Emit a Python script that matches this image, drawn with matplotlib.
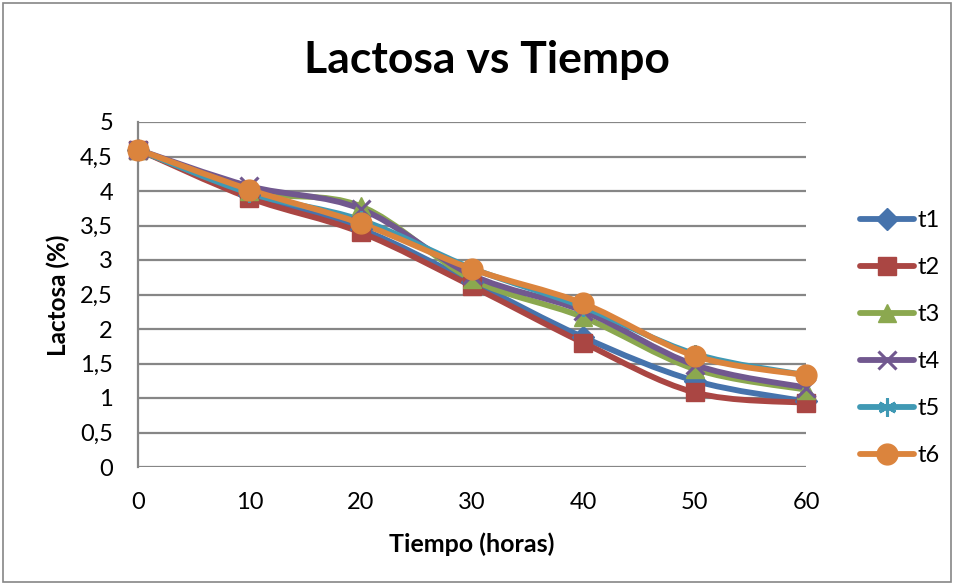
import matplotlib.pyplot as plt
import numpy as np
from matplotlib.path import Path
from matplotlib.patches import PathPatch, Rectangle
from matplotlib.lines import Line2D

plt.rcParams['font.family'] = ['Lato', 'DejaVu Sans']

horas = [0, 10, 20, 30, 40, 50, 60]
t1 = [4.60, 3.94, 3.45, 2.68, 1.88, 1.25, 0.95]
t2 = [4.60, 3.90, 3.40, 2.62, 1.80, 1.08, 0.93]
t3 = [4.60, 4.00, 3.78, 2.72, 2.17, 1.42, 1.12]
t4 = [4.60, 4.07, 3.74, 2.78, 2.26, 1.48, 1.15]
t5 = [4.60, 3.97, 3.58, 2.88, 2.32, 1.64, 1.33]
t6 = [4.60, 4.02, 3.53, 2.87, 2.37, 1.61, 1.33]

names = ['t1', 't2', 't3', 't4', 't5', 't6']
colors = ['#4673AC', '#AA4643', '#8BA84F', '#71588F', '#4099B4', '#DB843D']
markers = ['D', 's', '^', 'x', (6, 2, 0), 'o']
msizes = [11, 13, 13, 13, 13, 15]
series = [t1, t2, t3, t4, t5, t6]


def smooth_path(x, y):
    # cubic bezier segments through the points (Excel-style smoothing)
    pts = np.column_stack([x, y]).astype(float)
    n = len(pts)
    verts = [pts[0]]
    codes = [Path.MOVETO]
    for i in range(n - 1):
        p0 = pts[max(i - 1, 0)]
        p1 = pts[i]
        p2 = pts[i + 1]
        p3 = pts[min(i + 2, n - 1)]
        c1 = p1 + (p2 - p0) / 6.0
        c2 = p2 - (p3 - p1) / 6.0
        verts += [c1, c2, p2]
        codes += [Path.CURVE4] * 3
    return Path(verts, codes)


def edge_width(m):
    return 2.2 if m in ('x', (6, 2, 0)) else 1


fig = plt.figure(figsize=(9.56, 5.85), dpi=100)
ax = fig.add_axes([138 / 956, 1 - 467 / 585, (806 - 138) / 956, (467 - 122) / 585])

for vals, name, c, m, ms in zip(series, names, colors, markers, msizes):
    patch = PathPatch(smooth_path(horas, vals), fill=False, edgecolor=c,
                      lw=4.2, capstyle='round', joinstyle='round', zorder=3)
    ax.add_patch(patch)
    ax.plot(horas, vals, linestyle='none', marker=m, markersize=ms,
            color=c, markeredgecolor=c, markeredgewidth=edge_width(m),
            zorder=4, clip_on=False)

ax.set_xlim(0, 60)
ax.set_ylim(0, 5)
ax.set_xticks(horas)
yt = np.arange(0, 5.01, 0.5)
ax.set_yticks(yt)
ax.set_yticklabels([('%g' % v).replace('.', ',') for v in yt])
ax.tick_params(length=0, labelsize=17)
ax.tick_params(axis='x', pad=18)
ax.tick_params(axis='y', pad=18)
ax.grid(axis='y', color='#868686', lw=1.6)
ax.set_axisbelow(True)
for s in ['top', 'right', 'bottom']:
    ax.spines[s].set_visible(False)
ax.spines['left'].set_color('#868686')
ax.spines['left'].set_linewidth(1.6)

fig.text(487 / 956, 1 - 60 / 585, 'Lactosa vs Tiempo', ha='center', va='center',
         fontsize=32, fontweight='bold')
fig.text(472 / 956, 1 - 544 / 585, 'Tiempo (horas)', ha='center', va='center',
         fontsize=18, fontweight='bold')
fig.text(58 / 956, 1 - 295 / 585, 'Lactosa (%)', ha='center', va='center',
         rotation=90, fontsize=17.5, fontweight='bold')

handles = [Line2D([0], [0], color=c, lw=4.2, marker=m, markersize=ms,
                  markeredgecolor=c, markeredgewidth=edge_width(m),
                  solid_capstyle='round')
           for c, m, ms in zip(colors, markers, msizes)]
fig.legend(handles, names, loc='center left', bbox_to_anchor=(848 / 956, 1 - 338 / 585),
           frameon=False, fontsize=17, handlelength=2.3, handletextpad=0.15,
           labelspacing=1.1, borderpad=0)

fig.patches.append(Rectangle((3 / 956, 3 / 585), 948 / 956, 579 / 585,
                             transform=fig.transFigure, fill=False,
                             edgecolor='#868686', lw=1.2))

fig.savefig('out.png', dpi=100)
